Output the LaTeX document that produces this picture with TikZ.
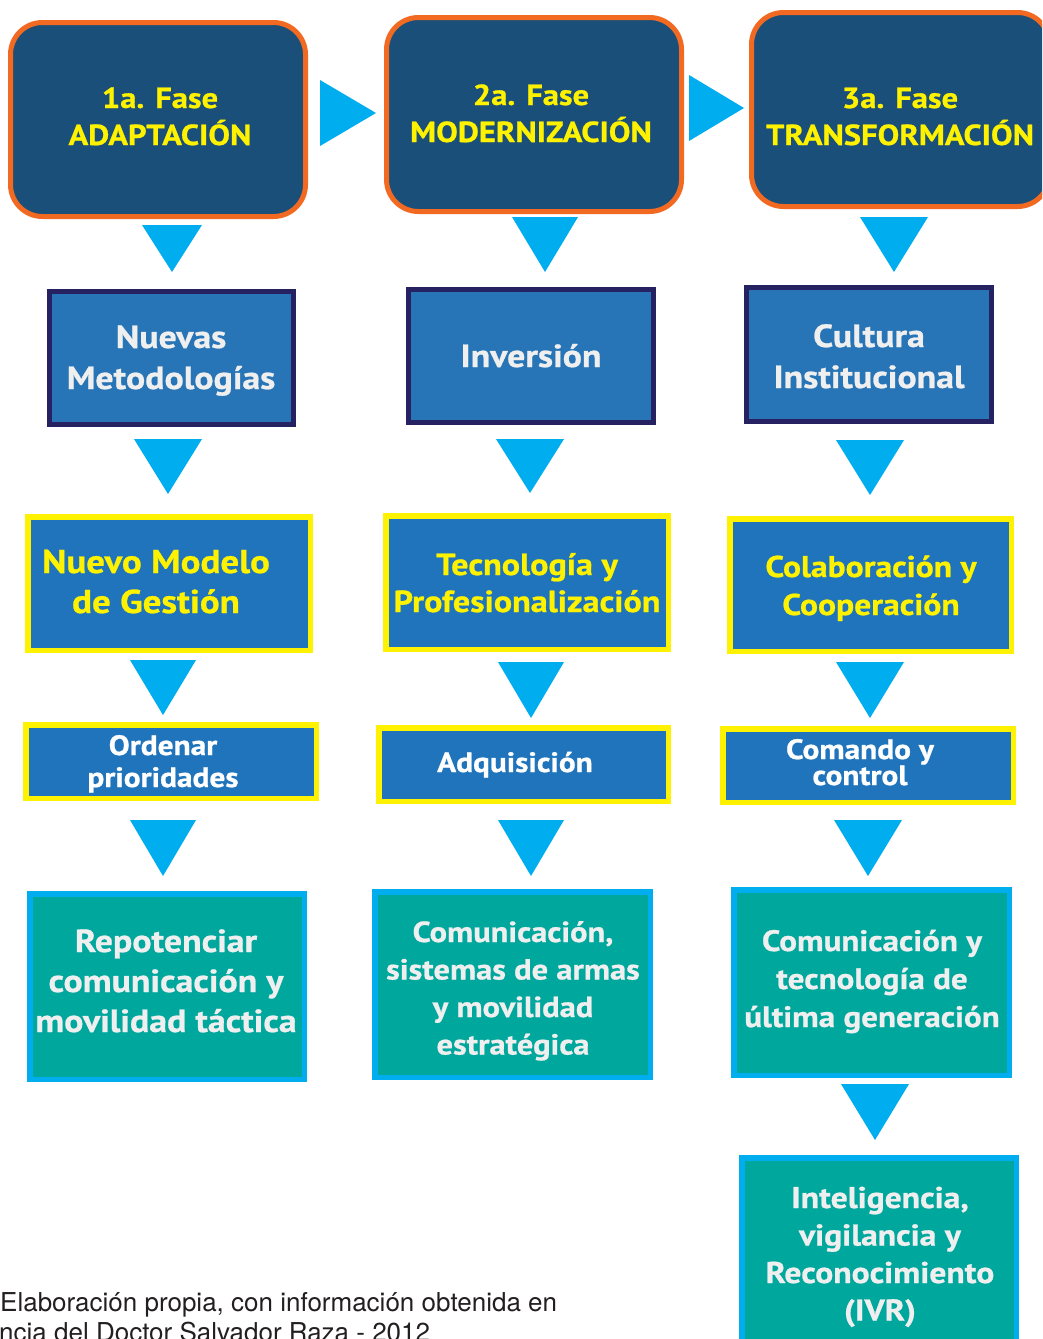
\documentclass[tikz,border=0pt]{standalone}
\usepackage{fontspec}
\newfontfamily\myr{PT Sans}[FakeStretch=1.12, BoldFeatures={FakeBold=0.8}]
\newfontfamily\capf{TeX Gyre Heros}
\definecolor{topfill}{HTML}{1A4F79}
\definecolor{orng}{HTML}{F26A21}
\definecolor{ylw}{HTML}{FFF200}
\definecolor{cyn}{HTML}{00AEEF}
\definecolor{rowtwo}{HTML}{2775B6}
\definecolor{indg}{HTML}{262262}
\definecolor{rowthree}{HTML}{1F74BC}
\definecolor{teal2}{HTML}{00A79D}
\definecolor{ltxt}{HTML}{EFEFEF}
\definecolor{captxt}{HTML}{231F20}
\newcommand\fsz[1]{\fontsize{#1}{#1}\selectfont}
% box: style, name, x1, y1, x2, y2 (outer edges), line width
\newcommand\bx[7]{\node[#1, minimum width={#5-#3-#7}, minimum height={#6-#4-#7}, inner sep=0pt] (#2) at ({(#3+#5)/2},{(#4+#6)/2}) {};}
% text lines: name, x, first baseline, spacing, style, list
\newcommand\txtlines[6]{\foreach \tl [count=\ti] in {#6} {\node[#5, anchor=base] (#1-\ti) at (#2,{#3+(\ti-1)*#4}) {\tl};}}
% down triangle: cx, top, bottom, half width
\newcommand\dtri[4]{\fill[cyn] ({#1-#4},#2) -- ({#1+#4},#2) -- (#1,#3) -- cycle;}
\begin{document}
\begin{tikzpicture}[x=1pt,y=-1pt,
  phase/.style={draw=orng, line width=5pt, fill=topfill, rounded corners=32pt, rectangle},
  secbox/.style={draw=indg, line width=5pt, fill=rowtwo, rectangle},
  ybox/.style={draw=ylw, line width=5.5pt, fill=rowthree, rectangle},
  tbox/.style={draw=cyn, line width=5.5pt, fill=teal2, rectangle},
  phtxt/.style={font=\myr\bfseries\fsz{29}, text=ylw, inner sep=0pt},
  wtxt/.style={font=\myr\bfseries\fsz{32}, text=ltxt, inner sep=0pt},
  ytxt/.style={font=\myr\bfseries\fsz{#1}, text=ylw, inner sep=0pt},
  ytxt/.default=30,
  stxt/.style={font=\myr\bfseries\fsz{28}, text=white, inner sep=0pt},
  ttxt/.style={font=\myr\bfseries\fsz{#1}, text=ltxt, inner sep=0pt},
  ttxt/.default=30,
  captext/.style={font=\capf\fsz{26}, text=captxt, inner sep=0pt}
]
\useasboundingbox (0,0) rectangle (1042,1339);
\clip (0,0) rectangle (1042,1339);
\fill[white] (0,0) rectangle (1042,1339);

% phase boxes
\bx{phase}{p1}{8}{20}{308}{219}{5}
\bx{phase}{p2}{384}{15}{684}{214}{5}
\bx{phase}{p3}{749}{10}{1052}{209}{5}
\txtlines{p1t}{160}{108}{37}{phtxt}{1a. Fase,ADAPTACIÓN}
\txtlines{p2t}{531}{105}{37}{phtxt}{2a. Fase,MODERNIZACIÓN}
\txtlines{p3t}{900}{108}{37}{phtxt}{3a. Fase,TRANSFORMACIÓN}

% right arrows
\fill[cyn] (320,80) -- (376,113) -- (320,146) -- cycle;
\fill[cyn] (689,75) -- (744,108) -- (689,141) -- cycle;

% down arrows row 1 -> 2
\dtri{172}{225}{272}{30}
\dtri{545}{217}{272}{33}
\dtri{894}{217}{272}{34}

% row 2
\bx{secbox}{a1}{47}{289}{296}{427}{5}
\bx{secbox}{a2}{406}{287}{656}{425}{5}
\bx{secbox}{a3}{744}{285}{994}{424}{5}
\txtlines{a1t}{171}{348}{41}{wtxt}{Nuevas,Metodologías}
\txtlines{a2t}{531}{367}{41}{wtxt}{Inversión}
\txtlines{a3t}{869}{347}{41}{wtxt}{Cultura,Institucional}

% down arrows row 2 -> 3
\dtri{168}{439}{494}{34}
\dtri{530}{439}{493}{34}
\dtri{870}{440}{495}{34}

% row 3
\bx{ybox}{b1}{25}{514}{313}{653}{5.5}
\bx{ybox}{b2}{383}{513}{671}{652}{5.5}
\bx{ybox}{b3}{727}{516}{1014}{654}{5.5}
\txtlines{b1t}{156}{573}{40}{ytxt=33}{Nuevo Modelo,de Gestión}
\txtlines{b2t}{527}{575}{37}{ytxt=30.5}{Tecnología y,Profesionalización}
\txtlines{b3t}{871}{577}{38}{ytxt=30}{Colaboración y,Cooperación}

% down arrows row 3 -> 4
\dtri{163}{660}{715}{33}
\dtri{531}{662}{718}{33}
\dtri{870}{662}{718}{34}

% row 4
\bx{ybox}{c1}{23}{722}{319}{801}{5.5}
\bx{ybox}{c2}{376}{725}{671}{804}{5.5}
\bx{ybox}{c3}{720}{726}{1016}{805}{5.5}
\txtlines{c1t}{163}{755}{32}{stxt}{Ordenar,prioridades}
\txtlines{c2t}{515}{772}{32}{stxt}{Adquisición}
\txtlines{c3t}{860}{759}{26}{stxt}{Comando y,control}

% down arrows row 4 -> 5
\dtri{163}{820}{876}{33}
\dtri{531}{820}{876}{33}
\dtri{868}{820}{876}{34}

% row 5
\bx{tbox}{d1}{27}{891}{307}{1082}{5.5}
\bx{tbox}{d2}{372}{889}{653}{1080}{5.5}
\bx{tbox}{d3}{731}{887}{1012}{1078}{5.5}
\txtlines{d1t}{166}{952}{40}{ttxt=32}{Repotenciar,comunicación y,movilidad táctica}
\txtlines{d2t}{513}{942}{37.5}{ttxt=29}{{Comunicación,},sistemas de armas,y movilidad,estratégica}
\txtlines{d3t}{872}{951}{38}{ttxt=29.5}{Comunicación y,tecnología de,última generación}

% down arrow row 5 -> 6
\dtri{875}{1084}{1140}{34}

% row 6
\bx{tbox}{e1}{739}{1155}{1019}{1370}{5.5}
\txtlines{e1t}{880}{1208}{37.5}{ttxt=30}{{Inteligencia,},vigilancia y,Reconocimiento,(IVR)}

% caption
\node[captext, anchor=base west] (cap1) at (0,1311) {Elaboración propia, con información obtenida en};
\node[captext, anchor=base west] (cap2) at (-1,1341) {ncia del Doctor Salvador Raza - 2012};
\end{tikzpicture}
\end{document}
